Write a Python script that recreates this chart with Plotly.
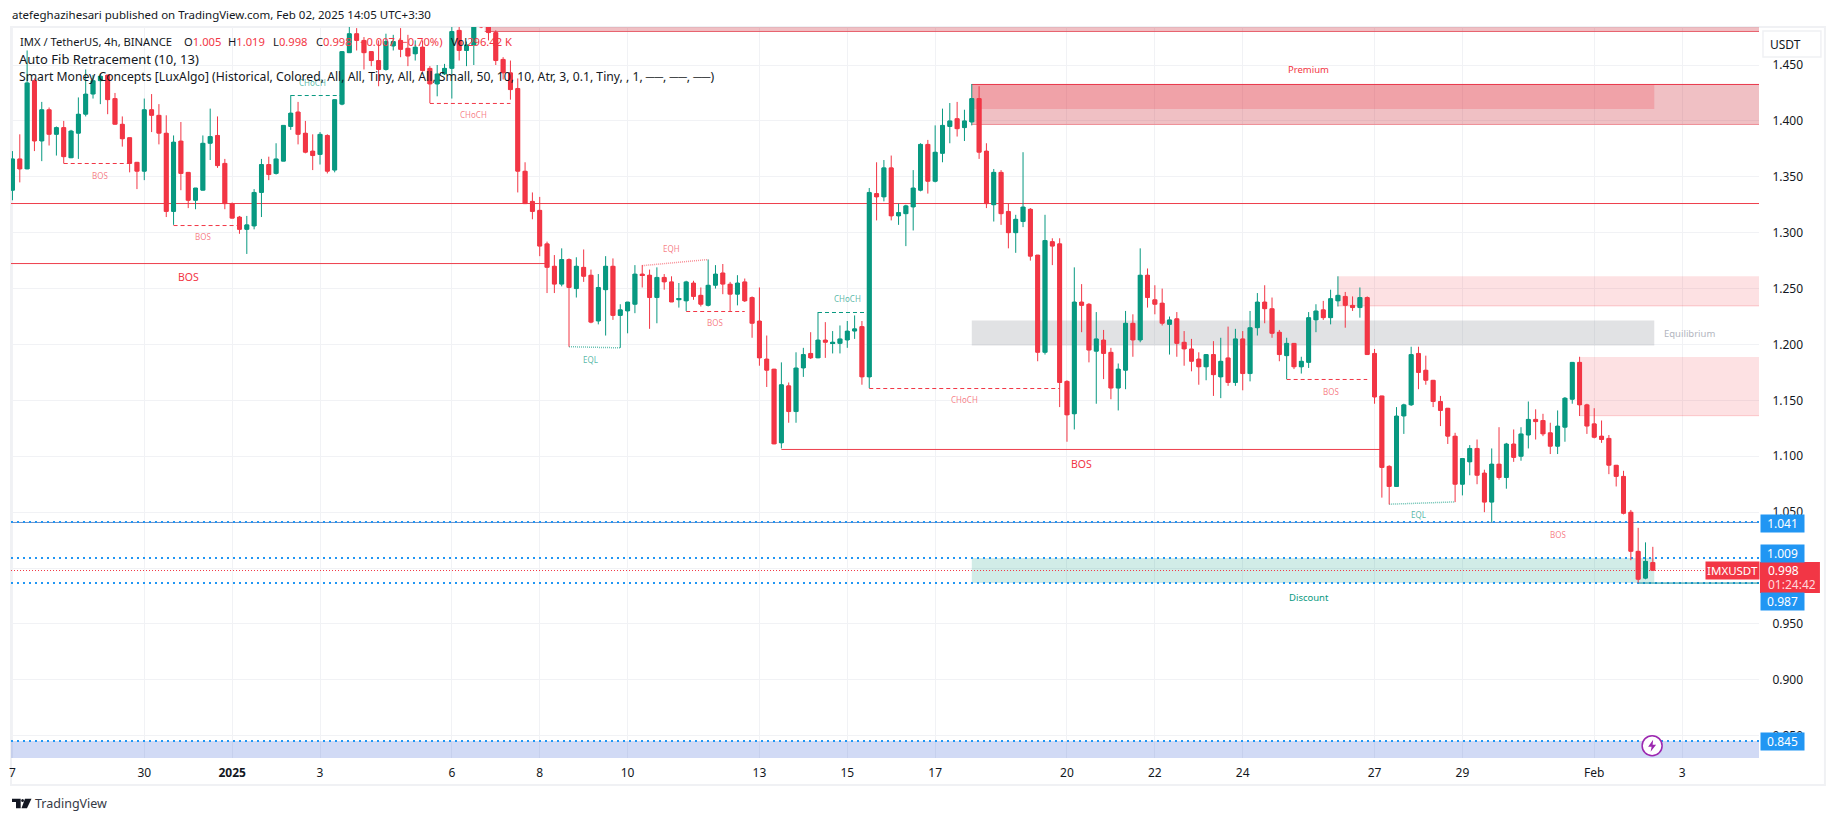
import pandas as pd
import plotly.graph_objects as go

# 4h candles of IMXUSDT, first one is Dec 27 00:00
opens = [
    1.338, 1.366, 1.357, 1.436, 1.382, 1.410, 1.388, 1.394, 1.367, 1.389,
    1.406, 1.424, 1.436, 1.441, 1.420, 1.397, 1.385, 1.363, 1.355, 1.410,
    1.405, 1.389, 1.319, 1.382, 1.354, 1.329, 1.338, 1.380, 1.387, 1.362,
    1.326, 1.314, 1.303, 1.306, 1.336, 1.361, 1.353, 1.364, 1.395, 1.408,
    1.389, 1.373, 1.370, 1.387, 1.356, 1.415, 1.461, 1.478, 1.472, 1.462,
    1.454, 1.446, 1.467, 1.472, 1.465, 1.460, 1.466, 1.447, 1.433, 1.442,
    1.447, 1.481, 1.463, 1.468, 1.488, 1.486, 1.479, 1.455, 1.443, 1.429,
    1.355, 1.328, 1.320, 1.290, 1.270, 1.254, 1.276, 1.250, 1.269, 1.262,
    1.221, 1.249, 1.270, 1.226, 1.230, 1.236, 1.263, 1.262, 1.242, 1.260,
    1.256, 1.240, 1.239, 1.255, 1.244, 1.235, 1.253, 1.264, 1.254, 1.245,
    1.256, 1.242, 1.221, 1.187, 1.178, 1.112, 1.163, 1.140, 1.179, 1.192,
    1.188, 1.204, 1.201, 1.201, 1.204, 1.212, 1.216, 1.171, 1.335, 1.332,
    1.358, 1.315, 1.317, 1.323, 1.338, 1.379, 1.346, 1.371, 1.395, 1.402,
    1.394, 1.399, 1.420, 1.373, 1.325, 1.354, 1.319, 1.300, 1.310, 1.321,
    1.280, 1.193, 1.292, 1.290, 1.167, 1.138, 1.238, 1.236, 1.194, 1.204,
    1.193, 1.161, 1.177, 1.219, 1.204, 1.262, 1.240, 1.237, 1.218, 1.223,
    1.202, 1.196, 1.187, 1.180, 1.191, 1.171, 1.188, 1.166, 1.205, 1.174,
    1.215, 1.238, 1.232, 1.211, 1.190, 1.201, 1.180, 1.184, 1.222, 1.231,
    1.224, 1.239, 1.243, 1.235, 1.233, 1.242, 1.192, 1.154, 1.091, 1.073,
    1.136, 1.146, 1.192, 1.177, 1.168, 1.149, 1.143, 1.118, 1.075, 1.095,
    1.107, 1.085, 1.059, 1.093, 1.081, 1.111, 1.100, 1.119, 1.133, 1.132,
    1.121, 1.109, 1.126, 1.151, 1.184, 1.146, 1.129, 1.118, 1.116, 1.092,
    1.082, 1.050, 1.015, 0.991, 1.005,
]
highs = [
    1.373, 1.388, 1.463, 1.438, 1.417, 1.412, 1.395, 1.400, 1.392, 1.421,
    1.446, 1.441, 1.442, 1.441, 1.425, 1.404, 1.385, 1.363, 1.420, 1.424,
    1.415, 1.405, 1.387, 1.399, 1.354, 1.340, 1.387, 1.411, 1.404, 1.366,
    1.327, 1.315, 1.315, 1.339, 1.366, 1.368, 1.380, 1.396, 1.423, 1.417,
    1.400, 1.388, 1.390, 1.388, 1.419, 1.462, 1.486, 1.483, 1.475, 1.462,
    1.472, 1.478, 1.477, 1.483, 1.477, 1.472, 1.472, 1.449, 1.450, 1.451,
    1.486, 1.485, 1.471, 1.487, 1.492, 1.490, 1.481, 1.457, 1.454, 1.438,
    1.363, 1.336, 1.332, 1.292, 1.280, 1.286, 1.277, 1.278, 1.285, 1.267,
    1.263, 1.279, 1.277, 1.236, 1.238, 1.271, 1.271, 1.267, 1.269, 1.263,
    1.261, 1.255, 1.257, 1.257, 1.251, 1.276, 1.271, 1.272, 1.256, 1.262,
    1.259, 1.243, 1.251, 1.208, 1.178, 1.184, 1.166, 1.193, 1.197, 1.211,
    1.229, 1.220, 1.212, 1.217, 1.221, 1.226, 1.221, 1.340, 1.363, 1.365,
    1.369, 1.326, 1.325, 1.356, 1.380, 1.383, 1.396, 1.411, 1.416, 1.417,
    1.410, 1.433, 1.431, 1.380, 1.357, 1.356, 1.326, 1.316, 1.372, 1.322,
    1.280, 1.316, 1.295, 1.295, 1.168, 1.269, 1.254, 1.237, 1.229, 1.213,
    1.197, 1.183, 1.230, 1.227, 1.286, 1.268, 1.253, 1.250, 1.225, 1.229,
    1.212, 1.205, 1.193, 1.191, 1.203, 1.206, 1.216, 1.214, 1.212, 1.230,
    1.246, 1.253, 1.242, 1.213, 1.206, 1.201, 1.189, 1.229, 1.236, 1.239,
    1.249, 1.261, 1.247, 1.243, 1.251, 1.243, 1.196, 1.154, 1.092, 1.144,
    1.147, 1.198, 1.198, 1.190, 1.168, 1.154, 1.143, 1.121, 1.098, 1.110,
    1.115, 1.088, 1.107, 1.126, 1.112, 1.124, 1.126, 1.149, 1.142, 1.138,
    1.130, 1.141, 1.153, 1.184, 1.189, 1.147, 1.143, 1.132, 1.119, 1.092,
    1.087, 1.052, 1.036, 1.023, 1.019,
]
lows = [
    1.329, 1.345, 1.357, 1.373, 1.364, 1.378, 1.369, 1.362, 1.367, 1.366,
    1.404, 1.420, 1.415, 1.406, 1.397, 1.377, 1.354, 1.339, 1.347, 1.390,
    1.379, 1.314, 1.307, 1.338, 1.322, 1.321, 1.338, 1.365, 1.358, 1.321,
    1.313, 1.299, 1.281, 1.303, 1.314, 1.347, 1.352, 1.364, 1.392, 1.379,
    1.371, 1.356, 1.361, 1.353, 1.354, 1.414, 1.461, 1.463, 1.446, 1.449,
    1.431, 1.445, 1.463, 1.457, 1.449, 1.454, 1.444, 1.416, 1.422, 1.441,
    1.420, 1.454, 1.449, 1.450, 1.483, 1.472, 1.450, 1.437, 1.419, 1.336,
    1.326, 1.312, 1.279, 1.246, 1.246, 1.252, 1.198, 1.242, 1.256, 1.219,
    1.218, 1.208, 1.222, 1.197, 1.210, 1.228, 1.251, 1.214, 1.219, 1.249,
    1.238, 1.233, 1.230, 1.240, 1.234, 1.234, 1.250, 1.245, 1.230, 1.235,
    1.238, 1.206, 1.181, 1.162, 1.111, 1.107, 1.130, 1.130, 1.171, 1.187,
    1.188, 1.188, 1.192, 1.192, 1.197, 1.205, 1.164, 1.161, 1.311, 1.328,
    1.311, 1.307, 1.288, 1.302, 1.337, 1.335, 1.345, 1.363, 1.380, 1.386,
    1.382, 1.396, 1.366, 1.322, 1.310, 1.307, 1.286, 1.282, 1.305, 1.275,
    1.185, 1.191, 1.271, 1.144, 1.113, 1.124, 1.211, 1.184, 1.147, 1.169,
    1.151, 1.141, 1.160, 1.189, 1.202, 1.233, 1.227, 1.217, 1.191, 1.189,
    1.181, 1.176, 1.164, 1.168, 1.154, 1.152, 1.163, 1.163, 1.159, 1.167,
    1.208, 1.219, 1.206, 1.185, 1.169, 1.178, 1.174, 1.179, 1.211, 1.222,
    1.218, 1.234, 1.215, 1.230, 1.224, 1.191, 1.147, 1.063, 1.057, 1.073,
    1.120, 1.145, 1.160, 1.164, 1.144, 1.127, 1.111, 1.059, 1.065, 1.083,
    1.075, 1.050, 1.041, 1.079, 1.071, 1.095, 1.096, 1.107, 1.115, 1.118,
    1.102, 1.102, 1.113, 1.147, 1.136, 1.120, 1.116, 1.112, 1.084, 1.073,
    1.048, 1.007, 0.987, 0.990, 0.998,
]
closes = [
    1.366, 1.357, 1.434, 1.382, 1.410, 1.388, 1.394, 1.368, 1.391, 1.406,
    1.424, 1.436, 1.440, 1.419, 1.397, 1.384, 1.362, 1.355, 1.410, 1.405,
    1.389, 1.319, 1.381, 1.353, 1.329, 1.340, 1.380, 1.386, 1.360, 1.326,
    1.313, 1.303, 1.307, 1.336, 1.361, 1.352, 1.366, 1.396, 1.407, 1.388,
    1.372, 1.369, 1.388, 1.355, 1.419, 1.462, 1.478, 1.472, 1.461, 1.454,
    1.446, 1.471, 1.471, 1.464, 1.458, 1.466, 1.445, 1.433, 1.442, 1.447,
    1.480, 1.463, 1.468, 1.484, 1.484, 1.479, 1.454, 1.443, 1.428, 1.355,
    1.326, 1.319, 1.288, 1.269, 1.254, 1.276, 1.251, 1.270, 1.261, 1.220,
    1.251, 1.270, 1.226, 1.231, 1.238, 1.263, 1.262, 1.242, 1.260, 1.256,
    1.238, 1.241, 1.256, 1.243, 1.236, 1.253, 1.263, 1.254, 1.245, 1.255,
    1.239, 1.219, 1.188, 1.177, 1.111, 1.164, 1.140, 1.179, 1.191, 1.188,
    1.204, 1.202, 1.202, 1.205, 1.212, 1.214, 1.171, 1.336, 1.332, 1.358,
    1.315, 1.318, 1.324, 1.340, 1.379, 1.346, 1.372, 1.396, 1.400, 1.393,
    1.400, 1.420, 1.372, 1.326, 1.354, 1.317, 1.300, 1.312, 1.323, 1.279,
    1.193, 1.293, 1.288, 1.166, 1.137, 1.238, 1.235, 1.195, 1.205, 1.192,
    1.161, 1.178, 1.219, 1.204, 1.262, 1.242, 1.236, 1.219, 1.222, 1.201,
    1.196, 1.185, 1.180, 1.191, 1.173, 1.185, 1.166, 1.205, 1.174, 1.215,
    1.238, 1.232, 1.210, 1.191, 1.201, 1.180, 1.185, 1.224, 1.230, 1.224,
    1.241, 1.244, 1.235, 1.233, 1.242, 1.191, 1.153, 1.090, 1.073, 1.136,
    1.146, 1.191, 1.175, 1.168, 1.149, 1.141, 1.118, 1.075, 1.098, 1.107,
    1.083, 1.059, 1.093, 1.081, 1.111, 1.099, 1.120, 1.133, 1.131, 1.120,
    1.109, 1.127, 1.152, 1.184, 1.146, 1.127, 1.117, 1.115, 1.092, 1.082,
    1.049, 1.015, 0.990, 1.006, 0.998,
]

# Axis ticks
tick_days = ["2024-12-27", "2024-12-30", "2025-01-01", "2025-01-03", "2025-01-06", "2025-01-08",
             "2025-01-10", "2025-01-13", "2025-01-15", "2025-01-17", "2025-01-20", "2025-01-22",
             "2025-01-24", "2025-01-27", "2025-01-29", "2025-02-01", "2025-02-03"]
tick_names = ["7", "30", "<b>2025</b>", "3", "6", "8", "10", "13", "15", "17", "20", "22",
              "24", "27", "29", "Feb", "3"]
price_ticks = [0.85, 0.90, 0.95, 1.00, 1.05, 1.10, 1.15, 1.20, 1.25, 1.30, 1.35, 1.40, 1.45]
# 1.000 sits fully under the price tags
price_names = ["0.850", "0.900", "0.950", "", "1.050", "1.100", "1.150", "1.200", "1.250", "1.300",
               "1.350", "1.400", "1.450"]

# Dashed market structure: first bar, last bar, level, colour, name, label bar, label price
dash_starts = [7, 22, 38, 57, 92, 110, 117, 174]
dash_ends = [16, 31, 45, 68, 100, 117, 143, 185]
dash_levels = [1.3619, 1.3064, 1.4227, 1.4156, 1.2295, 1.2286, 1.1606, 1.1687]
dash_names = ["BOS", "BOS", "CHoCH", "CHoCH", "BOS", "CHoCH", "CHoCH", "BOS"]
dash_up = [False, False, True, False, False, True, False, False]
dash_label_bars = [12, 26, 41, 63, 96, 114, 130, 180]
dash_label_prices = [1.3515, 1.297, 1.4345, 1.406, 1.220, 1.2408, 1.1512, 1.158]

# Dotted equal highs / lows
eq_starts = [76, 86, 188]
eq_ends = [83, 95, 197]
eq_from = [1.198, 1.2705, 1.0571]
eq_to = [1.197, 1.276, 1.0592]
eq_names = ["EQL", "EQH", "EQL"]
eq_label_bars = [79, 90, 192]
eq_label_prices = [1.187, 1.286, 1.048]

# Blue drawn levels with their tags
blue_levels = [1.0412, 1.009, 0.9866, 0.8453]
blue_tags = ["1.041", "1.009", "0.987", "0.845"]

last_price = 0.9978
GREEN = "#089981"
RED = "#F23645"
BLUE = "#2196F3"
INK = "#131722"
FONT = "Noto Sans"

# pixel box of the price pane on the 1835x821 page
L, R, T, B = 9, 1759, 27, 758


def px_x(px):
    return (px - L) / (R - L)


def px_y(py):
    return (B - py) / (B - T)


def bar(i):
    return pd.Timestamp("2024-12-27") + pd.Timedelta(hours=4 * i)


times = [bar(i) for i in range(len(closes))]
x_start = pd.Timestamp("2024-12-26 23:12")
x_end = pd.Timestamp("2025-02-04 18:00")

fig = go.Figure()
# candlestick gives the wicks, its own bodies are too thin so a bar trace widens them
fig.add_trace(go.Candlestick(
    x=times, open=opens, high=highs, low=lows, close=closes,
    increasing=dict(line=dict(color=GREEN, width=1), fillcolor=GREEN),
    decreasing=dict(line=dict(color=RED, width=1), fillcolor=RED),
    whiskerwidth=0, hoverinfo="skip",
))
fig.add_trace(go.Bar(
    x=times,
    y=[abs(c - o) for o, c in zip(opens, closes)],
    base=[min(o, c) for o, c in zip(opens, closes)],
    width=4 * 3600 * 1000 * 0.68,
    marker=dict(color=[GREEN if c > o else RED for o, c in zip(opens, closes)], line=dict(width=0)),
    hoverinfo="skip",
))


def box(x0, x1, y0, y1, fill, line=None):
    fig.add_shape(type="rect", x0=x0, x1=x1, y0=y0, y1=y1, fillcolor=fill,
                  line=dict(width=1, color=line) if line else dict(width=0), layer="between")


def hline(x0, x1, y0, y1, color, width=1, dash="solid"):
    fig.add_shape(type="line", x0=x0, x1=x1, y0=y0, y1=y1,
                  line=dict(color=color, width=width, dash=dash), layer="between")


def note(text, x, y, size, color, xref="x", yref="y", anchor="center", **kw):
    fig.add_annotation(text=text, x=x, y=y, xref=xref, yref=yref, showarrow=False,
                       xanchor=anchor, yanchor="middle", font=dict(family=FONT, size=size, color=color),
                       borderpad=0, **kw)


# Zones
zone_start = bar(131)
zone_stop = bar(224.2)
box(bar(64.5), x_end, 1.480, 1.50, "rgba(204,46,60,0.30)")
hline(bar(64.5), x_end, 1.480, 1.480, "#E8606C", 1)
box(zone_start, x_end, 1.3968, 1.4326, "rgba(204,46,60,0.30)")
box(zone_start, zone_stop, 1.4107, 1.4326, "rgba(242,54,69,0.22)")
hline(zone_start, x_end, 1.4326, 1.4326, "#E8364A", 1)
hline(zone_start, x_end, 1.3968, 1.3968, "#EE8F98", 1)
box(zone_start, zone_stop, 1.1991, 1.2214, "rgba(120,123,134,0.22)")
box(bar(181), x_end, 1.2345, 1.261, "rgba(242,54,69,0.15)")
box(bar(214), x_end, 1.1363, 1.1887, "rgba(242,54,69,0.15)")
hline(bar(181), x_end, 1.2345, 1.2345, "rgba(242,54,69,0.22)")
hline(bar(214), x_end, 1.1363, 1.1363, "rgba(242,54,69,0.22)")
box(zone_start, zone_stop, 0.9866, 1.009, "rgba(8,153,129,0.19)")
box(x_start, x_end, 0.80, 0.8453, "rgba(63,100,212,0.24)")

# Solid structure lines
hline(x_start, x_end, 1.3261, 1.3261, "#EE3E4C", 1)
hline(x_start, bar(73), 1.2724, 1.2724, "#EE3E4C", 1)
hline(bar(105), bar(187), 1.1061, 1.1061, "#EE3E4C", 1)
note("BOS", bar(24), 1.2604, 10.5, RED)
note("BOS", bar(146), 1.0935, 10.5, RED)

for s, e, lvl, up, name, lb, lp in zip(dash_starts, dash_ends, dash_levels, dash_up, dash_names,
                                       dash_label_bars, dash_label_prices):
    color = GREEN if up else RED
    hline(bar(s), bar(e), lvl, lvl, color, 1, "4px,3px")
    note(name, bar(lb), lp, 8, "rgba(8,153,129,0.7)" if up else "rgba(242,54,69,0.65)")

for s, e, a, b, name, lb, lp in zip(eq_starts, eq_ends, eq_from, eq_to, eq_names,
                                    eq_label_bars, eq_label_prices):
    low = name == "EQL"
    hline(bar(s), bar(e), a, b, "rgba(8,153,129,0.6)" if low else "rgba(242,54,69,0.55)", 1.5, "1px,1px")
    note(name, bar(lb), lp, 8, "rgba(8,153,129,0.7)" if low else "rgba(242,54,69,0.65)")

note("BOS", bar(211), 1.030, 8, "rgba(242,54,69,0.65)")
note("Premium", bar(177), 1.4464, 9.5, RED)
note("Discount", bar(177), 0.9738, 9.5, GREEN)
note("Equilibrium", bar(229), 1.2095, 9.5, "#B2B5BE")

# Drawn levels and last price
hline(x_start, x_end, 1.0408, 1.0408, "#6A8FC8", 1)
for lvl in blue_levels:
    hline(x_start, x_end, lvl, lvl, BLUE, 2, "2px,4px")
hline(bar(222), x_end, 0.9866, 0.9866, "#0A8F9A", 1)
hline(x_start, x_end, last_price, last_price, RED, 1, "1px,2px")

# Frame round the chart and the currency button
fig.add_shape(type="rect", xref="paper", yref="paper", x0=px_x(9), x1=px_x(1825), y0=px_y(785), y1=px_y(27),
              line=dict(color="#F0F1F4", width=2), layer="below")
fig.add_shape(type="rect", xref="paper", yref="paper", x0=px_x(1763), x1=px_x(1821), y0=px_y(57), y1=px_y(31),
              line=dict(color="#F0F1F4", width=1.5), fillcolor="white", layer="above")
note("USDT", px_x(1786), px_y(44.7), 12, INK, "paper", "paper")

# Price tags on the right
for tag, py in zip(blue_tags, [523.5, 553, 601, 741]):
    note(tag, px_x(1760), px_y(py), 12, "white", "paper", "paper", "left",
         bgcolor=BLUE, width=43, height=17, align="center")
fig.add_shape(type="rect", xref="paper", yref="paper", x0=px_x(1760), x1=px_x(1820), y0=px_y(593), y1=px_y(562),
              fillcolor=RED, line=dict(width=0), layer="above")
note("0.998", px_x(1767.5), px_y(570.3), 12, "white", "paper", "paper", "left")
note("01:24:42", px_x(1767.5), px_y(584.3), 12, "#FFD9DC", "paper", "paper", "left")
note("IMXUSDT", px_x(1704.5), px_y(570.5), 11.5, "white", "paper", "paper", "left",
     bgcolor=RED, width=53, height=17, align="center")

# Lightning marker on the price pane
cx, cy = 1652, 745.7
fig.add_shape(type="circle", xref="paper", yref="paper", x0=px_x(cx - 10), x1=px_x(cx + 10),
              y0=px_y(cy + 10), y1=px_y(cy - 10), fillcolor="white", line=dict(color="#9C27B0", width=1.5),
              layer="above")
bolt = [(1, -6), (-4, 1), (-0.5, 1), (-1.5, 6), (4, -1), (0.5, -1)]
fig.add_shape(type="path", xref="paper", yref="paper", fillcolor="#9C27B0", line=dict(width=0), layer="above",
              path="M " + " L ".join(f"{px_x(cx + a):.5f} {px_y(cy + b):.5f}" for a, b in bolt) + " Z")

# TradingView mark at the bottom
logo_parts = [
    [(10, 798.7), (18.7, 798.7), (18.7, 808.3), (14, 808.3), (14, 802), (10, 802)],
    [(23, 798.7), (29.5, 798.7), (25, 808.3), (19.5, 808.3)],
]
for part in logo_parts:
    fig.add_shape(type="path", xref="paper", yref="paper", fillcolor=INK, line=dict(width=0), layer="above",
                  path="M " + " L ".join(f"{px_x(a):.5f} {px_y(b):.5f}" for a, b in part) + " Z")
fig.add_shape(type="circle", xref="paper", yref="paper", x0=px_x(19.2), x1=px_x(22), y0=px_y(802),
              y1=px_y(799), fillcolor=INK, line=dict(width=0), layer="above")
note("TradingView", px_x(32.5), px_y(803), 12.5, "#363A45", "paper", "paper", "left")

# Header and pane legend
note("atefeghazihesari published on TradingView.com, Feb 02, 2025 14:05 UTC+3:30",
     px_x(9.5), px_y(15), 11.5, INK, "paper", "paper", "left")
red = f'<span style="color:{RED}">'
legend_parts = [
    ("IMX / TetherUS, 4h, BINANCE", 17),
    (f"O{red}1.005</span>", 181),
    (f"H{red}1.019</span>", 225),
    (f"L{red}0.998</span>", 270),
    (f"C{red}0.998</span>", 313),
    (f"{red}−0.007 (−0.70%)</span>", 357),
    (f"Vol{red}296.42 K</span>", 449),
]
for text, px in legend_parts:
    note(text, px_x(px), px_y(41.5), 11.2, INK, "paper", "paper", "left")
note("Auto Fib Retracement (10, 13)", px_x(16.5), px_y(59), 13, INK, "paper", "paper", "left")
note("Smart Money Concepts [LuxAlgo] (Historical, Colored, All, All, Tiny, All, All, Small, 50, 10, 10, Atr, 3, "
     "0.1, Tiny, , 1, ──, ──, ──)", px_x(16.5), px_y(76), 12.2, INK, "paper", "paper", "left")

fig.update_layout(
    width=1835, height=821, autosize=False, showlegend=False,
    paper_bgcolor="white", plot_bgcolor="white",
    margin=dict(l=L, r=1835 - R, t=T, b=821 - B),
    font=dict(family=FONT, size=12, color=INK),
)
fig.update_xaxes(
    type="date", range=[x_start, x_end], rangeslider_visible=False,
    tickmode="array", tickvals=tick_days, ticktext=tick_names, tickangle=0,
    showgrid=True, gridcolor="#F1F2F5", gridwidth=1, zeroline=False, showline=False,
    ticks="outside", ticklen=4, tickcolor="rgba(0,0,0,0)", tickfont=dict(family=FONT, size=12, color=INK),
)
fig.update_yaxes(
    side="right", range=[0.8301, 1.484], tickmode="array", tickvals=price_ticks, ticktext=price_names,
    showgrid=True, gridcolor="#F1F2F5", gridwidth=1, zeroline=False, showline=False,
    ticks="outside", ticklen=10, tickcolor="rgba(0,0,0,0)", tickfont=dict(family=FONT, size=12, color=INK),
)

fig.write_html("out.html", config={"displayModeBar": False}, post_script="document.body.style.margin='0';")
